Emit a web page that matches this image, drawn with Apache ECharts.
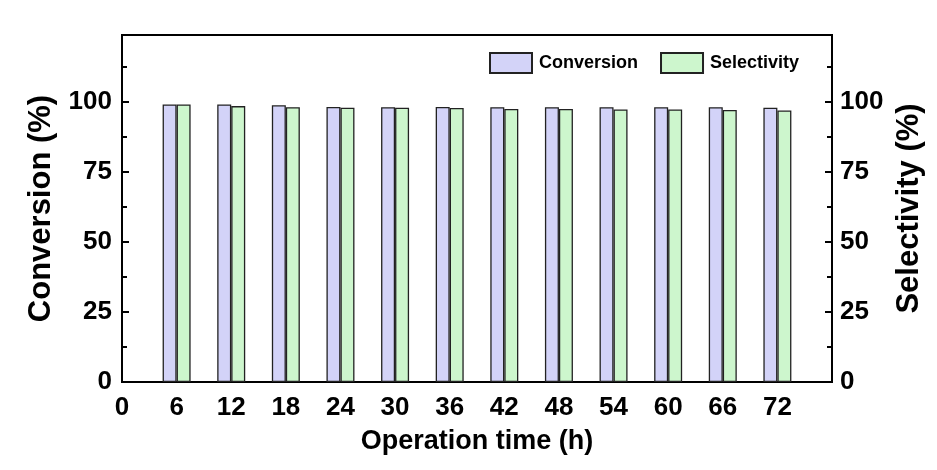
<!DOCTYPE html>
<html>
<head>
<meta charset="utf-8">
<script src="https://cdn.jsdelivr.net/npm/echarts@6/dist/echarts.min.js"></script>
<style>
  html, body { margin: 0; padding: 0; background: #ffffff; }
  #chart { width: 937px; height: 470px; }
</style>
</head>
<body>
<div id="chart"></div>
<script>
// Operation time (h) for each sampling point
const hours = [6, 12, 18, 24, 30, 36, 42, 48, 54, 60, 66, 72];
// Conversion (%) at each time point
const conversion = [99.2, 99.2, 98.9, 98.3, 98.2, 98.3, 98.2, 98.2, 98.2, 98.2, 98.2, 98.0];
// Selectivity (%) at each time point
const selectivity = [99.2, 98.6, 98.2, 98.0, 98.0, 97.9, 97.6, 97.6, 97.4, 97.4, 97.2, 97.0];
// Axis tick labels
const xTicks = [0, 6, 12, 18, 24, 30, 36, 42, 48, 54, 60, 66, 72];
const yTicks = [0, 25, 50, 75, 100];

const FONT = '"Liberation Sans", Arial, sans-serif';
const chart = echarts.init(document.getElementById('chart'), null, { renderer: 'canvas' });

const pairs = (vals) => hours.map((h, i) => [h, vals[i]]);

const yAxisBase = {
  type: 'value',
  min: 0,
  max: 124,
  interval: 25,
  nameLocation: 'middle',
  nameRotate: 90,
  nameTextStyle: { fontFamily: FONT, fontWeight: 'bold', fontSize: 31, color: '#000' },
  axisLine: { show: true, lineStyle: { color: '#000', width: 2 } },
  axisTick: { show: true, inside: true, length: 7, lineStyle: { color: '#000', width: 2 } },
  minorTick: { show: true, splitNumber: 2, length: 5, lineStyle: { color: '#000', width: 2 } },
  splitLine: { show: false },
  axisLabel: {
    fontFamily: FONT, fontWeight: 'bold', fontSize: 26, color: '#000',
    formatter: (v) => (yTicks.indexOf(v) >= 0 ? String(v) : '')
  }
};

chart.setOption({
  backgroundColor: '#ffffff',
  animation: false,
  grid: {
    left: 122, right: 105, top: 35, bottom: 88,
    show: true, borderColor: '#000', borderWidth: 2, backgroundColor: 'transparent'
  },
  legend: {
    left: 489, top: 52, padding: 0,
    itemWidth: 42, itemHeight: 20, itemGap: 22,
    icon: 'rect',
    textStyle: { fontFamily: FONT, fontWeight: 'bold', fontSize: 18, color: '#000', padding: [0, 0, 0, 2] },
    data: ['Conversion', 'Selectivity']
  },
  xAxis: {
    type: 'value',
    min: 0, max: 78, interval: 6,
    name: 'Operation time (h)',
    nameLocation: 'middle',
    nameGap: 46,
    nameTextStyle: { fontFamily: FONT, fontWeight: 'bold', fontSize: 27, color: '#000' },
    axisLine: { show: true, lineStyle: { color: '#000', width: 2 } },
    axisTick: { show: false },
    splitLine: { show: false },
    axisLabel: {
      margin: 13,
      fontFamily: FONT, fontWeight: 'bold', fontSize: 26, color: '#000',
      formatter: (v) => (xTicks.indexOf(v) >= 0 ? String(v) : '')
    }
  },
  yAxis: [
    Object.assign({}, yAxisBase, {
      position: 'left', name: 'Conversion (%)', nameGap: 65,
      axisLabel: Object.assign({}, yAxisBase.axisLabel, { margin: 10 })
    }),
    Object.assign({}, yAxisBase, {
      position: 'right', name: 'Selectivity (%)', nameGap: 62,
      axisLabel: Object.assign({}, yAxisBase.axisLabel, { margin: 8 })
    })
  ],
  series: [
    {
      name: 'Conversion',
      type: 'bar',
      yAxisIndex: 0,
      barWidth: 14,
      barGap: '0%',
      itemStyle: { color: '#d3d3f8', borderColor: '#222', borderWidth: 1.3 },
      data: pairs(conversion)
    },
    {
      name: 'Selectivity',
      type: 'bar',
      yAxisIndex: 1,
      barWidth: 14,
      barGap: '0%',
      itemStyle: { color: '#cdf6cd', borderColor: '#222', borderWidth: 1.3 },
      data: pairs(selectivity)
    }
  ]
});
</script>
</body>
</html>
